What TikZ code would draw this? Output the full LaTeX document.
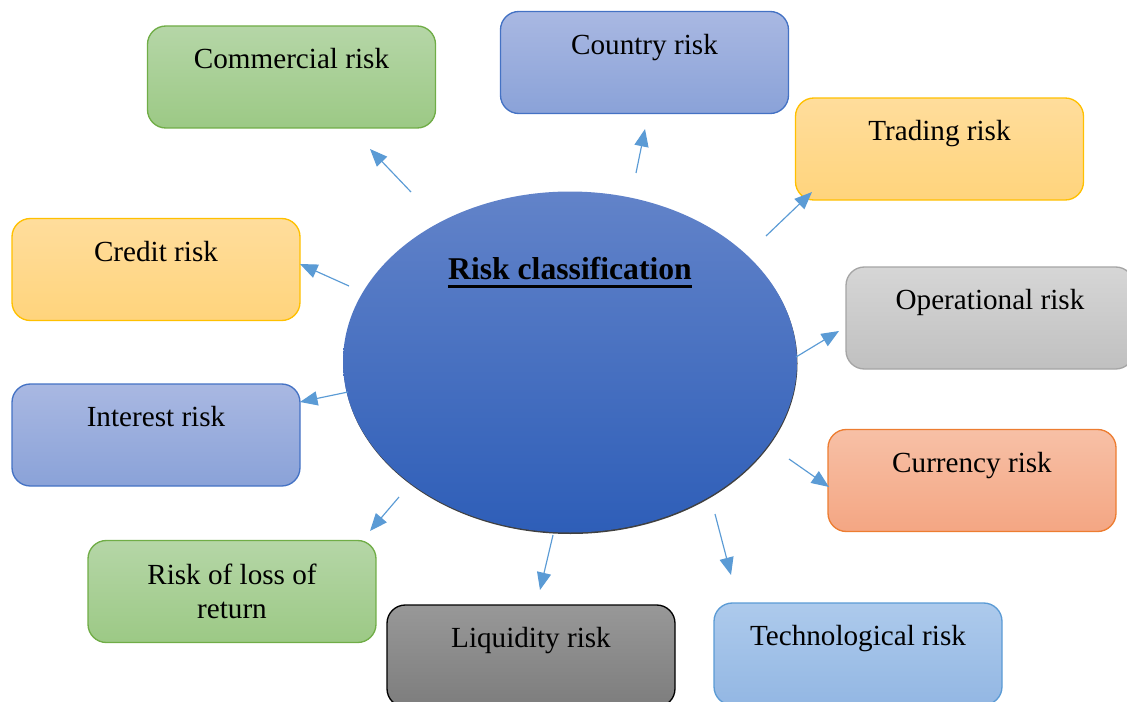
\documentclass[tikz,border=0pt]{standalone}
\usepackage{fontspec}
\setmainfont{Liberation Serif}
\usetikzlibrary{shapes.geometric, arrows.meta}
\definecolor{arrowblue}{HTML}{5B9BD5}
\definecolor{greenline}{HTML}{70AD47}
\definecolor{greentop}{HTML}{B5D6A7}
\definecolor{greenbot}{HTML}{9CC985}
\definecolor{bluetop}{HTML}{A9B8E2}
\definecolor{bluebot}{HTML}{8AA2D8}
\definecolor{blueline}{HTML}{4472C4}
\definecolor{goldtop}{HTML}{FFDD9C}
\definecolor{goldbot}{HTML}{FFD47C}
\definecolor{goldline}{HTML}{FFC000}
\definecolor{greytop}{HTML}{D6D6D6}
\definecolor{greybot}{HTML}{C0C0C0}
\definecolor{greyline}{HTML}{A5A5A5}
\definecolor{peachtop}{HTML}{F7C0A6}
\definecolor{peachbot}{HTML}{F4A683}
\definecolor{peachline}{HTML}{ED7D31}
\definecolor{darktop}{HTML}{989898}
\definecolor{darkbot}{HTML}{7D7D7D}
\definecolor{skytop}{HTML}{ADCAEC}
\definecolor{skybot}{HTML}{93B7E3}
\definecolor{skyline}{HTML}{5B9BD5}
\definecolor{hubtop}{HTML}{6283C9}
\definecolor{hubbot}{HTML}{2E5EB8}
\tikzset{
	box/.style={
		rectangle,
		draw,
		line width=0.8pt,
		minimum width=172.8pt,
		minimum height=61.2pt,
		rounded corners=11pt,
		align=center,
		font=\fontsize{17.5}{20}\selectfont,
	},
	toptext/.style={
		text height=12pt,
		text depth=22pt,
	},
	greenbox/.style={draw=greenline, top color=greentop, bottom color=greenbot},
	bluebox/.style={draw=blueline, top color=bluetop, bottom color=bluebot},
	goldbox/.style={draw=goldline, top color=goldtop, bottom color=goldbot},
	greybox/.style={draw=greyline, top color=greytop, bottom color=greybot},
	peachbox/.style={draw=peachline, top color=peachtop, bottom color=peachbot},
	darkbox/.style={draw=black, top color=darktop, bottom color=darkbot},
	skybox/.style={draw=skyline, top color=skytop, bottom color=skybot},
	hub/.style={
		ellipse,
		minimum width=272.4pt,
		minimum height=204.6pt,
		inner sep=0pt,
		top color=hubtop,
		bottom color=hubbot,
	},
	link/.style={
		draw=arrowblue,
		line width=0.7pt,
		-{Triangle[length=10.5pt, width=8.5pt]},
	},
}

\begin{document}
\begin{tikzpicture}[x=0.6pt, y=-0.6pt]
		\useasboundingbox (0,0) rectangle (1127,702);
		\clip (0,0) rectangle (1127,702);
		
		% centre
		\fill[black!75] (570.5,363.5) ellipse [x radius=227, y radius=170.5];
		\node [hub] (hub) at (570,362) {};
		\node [font=\fontsize{19}{22}\selectfont\bfseries, anchor=base, inner sep=0pt] (title) at (570,279) {Risk classification};
		\draw [line width=1.8pt] ([yshift=-4.3pt]title.base west) -- ([yshift=-4.3pt]title.base east);
		
		% boxes
		\node [box, toptext, greenbox] (commercial) at (291.5,77) {Commercial risk};
		\node [box, toptext, bluebox] (country) at (644.5,62.5) {Country risk};
		\node [box, toptext, goldbox] (trading) at (939.5,149) {Trading risk};
		\node [box, toptext, goldbox] (credit) at (156,269.5) {Credit risk};
		\node [box, toptext, greybox] (operational) at (990,318) {Operational risk};
		\node [box, toptext, bluebox] (interest) at (156,435) {Interest risk};
		\node [box, toptext, peachbox] (currency) at (972,480.5) {Currency risk};
		\node [box, greenbox] (loss) at (232,591.5) {Risk of loss of\\return};
		\node [box, toptext, darkbox] (liquidity) at (531,656) {Liquidity risk};
		\node [box, toptext, skybox] (technological) at (858,654) {Technological risk};
		
		% arrow ends
		\coordinate (s1) at (411,192);  \coordinate (e1) at (370,149);
		\coordinate (s2) at (636,173);  \coordinate (e2) at (645,129);
		\coordinate (s3) at (766,236);  \coordinate (e3) at (812,192);
		\coordinate (s4) at (349,286);  \coordinate (e4) at (300,264);
		\coordinate (s5) at (796,357);  \coordinate (e5) at (839,331);
		\coordinate (s6) at (348,392);  \coordinate (e6) at (300,402);
		\coordinate (s7) at (789,459);  \coordinate (e7) at (829,487);
		\coordinate (s8) at (399,497);  \coordinate (e8) at (370,531);
		\coordinate (s9) at (553,535);  \coordinate (e9) at (540,590);
		\coordinate (s10) at (715,514); \coordinate (e10) at (731,575);
		
		\draw [link] (s1) -- (e1);
		\draw [link] (s2) -- (e2);
		\draw [link] (s3) -- (e3);
		\draw [link] (s4) -- (e4);
		\draw [link] (s5) -- (e5);
		\draw [link] (s6) -- (e6);
		\draw [link] (s7) -- (e7);
		\draw [link] (s8) -- (e8);
		\draw [link] (s9) -- (e9);
		\draw [link] (s10) -- (e10);
	\end{tikzpicture}
\end{document}
